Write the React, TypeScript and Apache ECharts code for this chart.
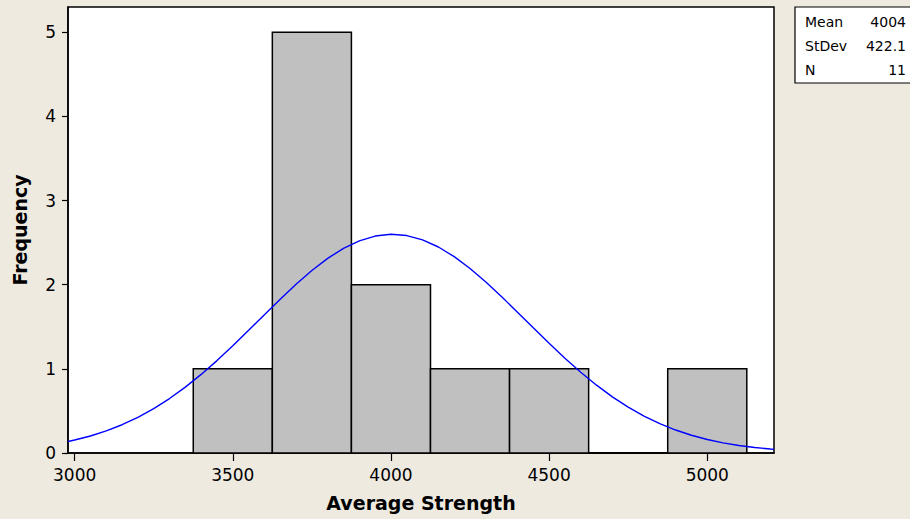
import React, { useEffect, useRef } from "react";
import * as echarts from "echarts";

// Histogram bins (Average Strength)
const binStarts = [3375, 3625, 3875, 4125, 4375, 4625, 4875];
const binEnds = [3625, 3875, 4125, 4375, 4625, 4875, 5125];
const binCounts = [1, 5, 2, 1, 1, 0, 1];

// Fitted normal curve
const curveX = [
  2979, 3000, 3050, 3100, 3150, 3200, 3250, 3300, 3350, 3400, 3450, 3500, 3550,
  3600, 3650, 3700, 3750, 3800, 3850, 3900, 3950, 4000, 4050, 4100, 4150, 4200,
  4250, 4300, 4350, 4400, 4450, 4500, 4550, 4600, 4650, 4700, 4750, 4800, 4850,
  4900, 4950, 5000, 5050, 5100, 5150, 5200, 5211,
];
const curveY = [
  0.136, 0.154, 0.202, 0.262, 0.336, 0.424, 0.527, 0.647, 0.783, 0.934, 1.098,
  1.274, 1.458, 1.644, 1.828, 2.005, 2.169, 2.313, 2.432, 2.521, 2.578, 2.599,
  2.584, 2.533, 2.448, 2.333, 2.193, 2.033, 1.857, 1.674, 1.487, 1.303, 1.126,
  0.959, 0.806, 0.667, 0.545, 0.439, 0.349, 0.273, 0.211, 0.161, 0.121, 0.089,
  0.065, 0.047, 0.044,
];

const xTicks = [3000, 3500, 4000, 4500, 5000];
const yTicks = [0, 1, 2, 3, 4, 5];

const statLabels = ["Mean", "StDev", "N"];
const statValues = ["4004", "422.1", "11"];

const xTitle = "Average Strength";
const yTitle = "Frequency";

export default function App() {
  const ref = useRef<HTMLDivElement>(null);

  useEffect(() => {
    if (!ref.current) return;
    const chart = echarts.init(ref.current, undefined, { renderer: "svg" });
    const font = "DejaVu Sans";

    const histData = binStarts.map((s, i) => [s, binEnds[i], binCounts[i]]);
    const lineData = curveX.map((x, i) => [x, curveY[i]]);

    const graphics: any[] = [
      {
        type: "rect",
        shape: { x: 795, y: 7, width: 200, height: 76 },
        style: { fill: "#ffffff", stroke: "#000000", lineWidth: 1.2 },
        z: 10,
      },
    ];
    statLabels.forEach((lab, i) => {
      graphics.push({
        type: "text",
        x: 805,
        y: 22 + i * 24,
        style: {
          text: lab,
          font: `14px "${font}"`,
          fill: "#000000",
          textAlign: "left",
          textVerticalAlign: "middle",
        },
        z: 11,
      });
      graphics.push({
        type: "text",
        x: 906,
        y: 22 + i * 24,
        style: {
          text: statValues[i],
          font: `14px "${font}"`,
          fill: "#000000",
          textAlign: "right",
          textVerticalAlign: "middle",
        },
        z: 11,
      });
    });

    chart.setOption({
      animation: false,
      backgroundColor: "#EEEAE0",
      textStyle: { fontFamily: font },
      grid: {
        left: 68,
        right: 136,
        top: 7,
        bottom: 66,
        show: true,
        backgroundColor: "#ffffff",
        borderColor: "#000000",
        borderWidth: 1.5,
      },
      xAxis: {
        type: "value",
        min: 2979,
        max: 5211,
        name: xTitle,
        nameLocation: "middle",
        nameGap: 40,
        nameTextStyle: {
          fontFamily: font,
          fontWeight: "bold",
          fontSize: 19,
          color: "#000000",
        },
        axisLine: { show: true, lineStyle: { color: "#000000", width: 1.5 } },
        axisTick: {
          show: true,
          length: 8,
          customValues: xTicks,
          lineStyle: { color: "#000000", width: 1.2 },
        },
        axisLabel: {
          customValues: xTicks,
          formatter: (v: number) => String(v),
          margin: 13,
          fontFamily: font,
          fontSize: 17,
          color: "#000000",
        },
        splitLine: { show: false },
      },
      yAxis: {
        type: "value",
        min: 0,
        max: 5.3,
        name: yTitle,
        nameLocation: "middle",
        nameRotate: 90,
        nameGap: 39,
        nameTextStyle: {
          fontFamily: font,
          fontWeight: "bold",
          fontSize: 19,
          color: "#000000",
        },
        axisLine: { show: true, lineStyle: { color: "#000000", width: 1.5 } },
        axisTick: {
          show: true,
          length: 6,
          customValues: yTicks,
          lineStyle: { color: "#000000", width: 1.2 },
        },
        axisLabel: {
          customValues: yTicks,
          formatter: (v: number) => String(v),
          margin: 12,
          fontFamily: font,
          fontSize: 17,
          color: "#000000",
        },
        splitLine: { show: false },
      },
      series: [
        {
          type: "custom",
          data: histData,
          z: 2,
          renderItem: (params: any, api: any) => {
            const p0 = api.coord([api.value(0), 0]);
            const p1 = api.coord([api.value(1), api.value(2)]);
            return {
              type: "rect",
              shape: {
                x: p0[0],
                y: p1[1],
                width: p1[0] - p0[0],
                height: p0[1] - p1[1],
              },
              style: {
                fill: "#C0C0C0",
                stroke: "#000000",
                lineWidth: 1.5,
              },
            };
          },
        },
        {
          type: "line",
          data: lineData,
          z: 3,
          symbol: "none",
          smooth: false,
          lineStyle: { color: "#0000FF", width: 1.4 },
          itemStyle: { color: "#0000FF" },
        },
      ],
      graphic: graphics,
    });

    return () => chart.dispose();
  }, []);

  return (
    <div
      ref={ref}
      style={{ position: "fixed", left: 0, top: 0, width: 910, height: 519 }}
    />
  );
}
